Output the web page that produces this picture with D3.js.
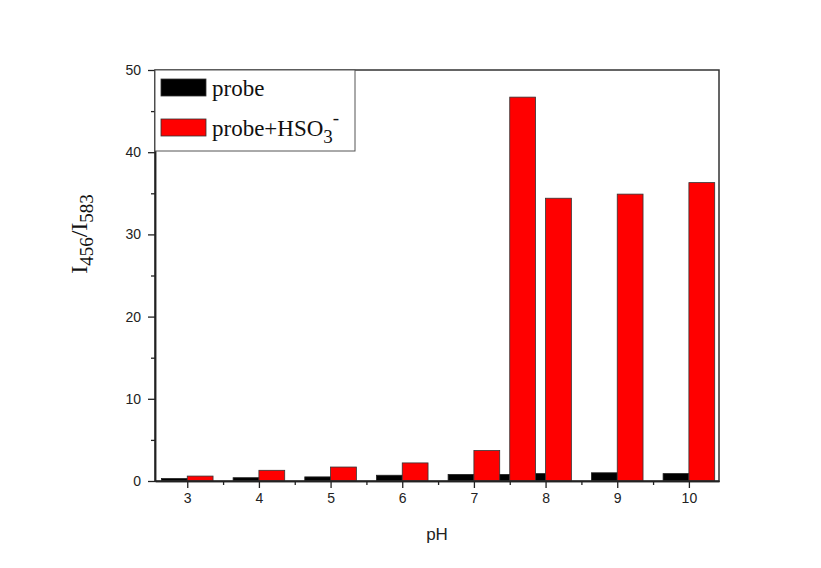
<!DOCTYPE html>
<html>
<head>
<meta charset="utf-8">
<script src="https://cdn.jsdelivr.net/npm/d3@7"></script>
<style>
  html, body { margin: 0; padding: 0; background: #fff; }
  svg { display: block; }
</style>
</head>
<body>
<svg id="chart" width="821" height="568"></svg>
<script>
// ---- data ----
const phValues = [3, 4, 5, 6, 7, 7.5, 8, 9, 10];
const probe = [0.3, 0.4, 0.5, 0.7, 0.8, 0.8, 0.9, 1.0, 0.9];
const probeHSO3 = [0.6, 1.3, 1.7, 2.2, 3.7, 46.7, 34.4, 34.9, 36.3];
const xTicks = [3, 4, 5, 6, 7, 8, 9, 10];
const xMinorTicks = [3.5, 4.5, 5.5, 6.5, 7.5, 8.5, 9.5];
const yTicks = [0, 10, 20, 30, 40, 50];
const yMinorTicks = [5, 15, 25, 35, 45];

const svg = d3.select("#chart");
const L = 155, R = 719, T = 70, B = 481;
const x = d3.scaleLinear().domain([2.55, 10.42]).range([L, R]);
const y = d3.scaleLinear().domain([0, 50]).range([B, T]);
const bw = 0.36;

svg.append("rect").attr("width", 821).attr("height", 568).attr("fill", "#fff");

// bars: all black first, then red
const gBars = svg.append("g");
gBars.selectAll("rect.probe").data(phValues).enter().append("rect")
  .attr("class", "probe")
  .attr("x", (d) => x(d - bw))
  .attr("width", (d) => x(d) - x(d - bw))
  .attr("y", (d, i) => y(probe[i]))
  .attr("height", (d, i) => y(0) - y(probe[i]))
  .attr("fill", "#000").attr("stroke", "#222").attr("stroke-width", 0.8);
gBars.selectAll("rect.hso3").data(phValues).enter().append("rect")
  .attr("class", "hso3")
  .attr("x", (d) => x(d))
  .attr("width", (d) => x(d + bw) - x(d))
  .attr("y", (d, i) => y(probeHSO3[i]))
  .attr("height", (d, i) => y(0) - y(probeHSO3[i]))
  .attr("fill", "#ff0000").attr("stroke", "#333").attr("stroke-width", 0.8);

// frame (top & right)
svg.append("rect").attr("x", L).attr("y", T).attr("width", R - L).attr("height", B - T)
  .attr("fill", "none").attr("stroke", "#333").attr("stroke-width", 1.5);

// axes
const xAxis = svg.append("g").attr("transform", `translate(0,${B})`)
  .call(d3.axisBottom(x).tickValues(xTicks).tickSize(7).tickSizeOuter(0).tickPadding(5).tickFormat(d3.format("d")));
const xMinor = svg.append("g").attr("transform", `translate(0,${B})`)
  .call(d3.axisBottom(x).tickValues(xMinorTicks).tickSize(4).tickSizeOuter(0).tickFormat(""));
const yAxis = svg.append("g").attr("transform", `translate(${L},0)`)
  .call(d3.axisLeft(y).tickValues(yTicks).tickSize(7).tickSizeOuter(0).tickPadding(7).tickFormat(d3.format("d")));
const yMinor = svg.append("g").attr("transform", `translate(${L},0)`)
  .call(d3.axisLeft(y).tickValues(yMinorTicks).tickSize(4).tickSizeOuter(0).tickFormat(""));

[xAxis, xMinor, yAxis, yMinor].forEach(g => {
  g.select(".domain").attr("stroke", "#222").attr("stroke-width", 1.5);
  g.selectAll(".tick line").attr("stroke", "#222").attr("stroke-width", 1.3);
  g.selectAll("text").attr("font-family", "Arial, 'Liberation Sans', sans-serif")
    .attr("font-size", 14).attr("fill", "#222");
});

// axis titles
svg.append("text").attr("x", (L + R) / 2).attr("y", 540)
  .attr("text-anchor", "middle")
  .attr("font-family", "Arial, 'Liberation Sans', sans-serif")
  .attr("font-size", 17).attr("fill", "#222").text("pH");

const yl = svg.append("text")
  .attr("transform", "translate(87,234) rotate(-90)")
  .attr("text-anchor", "middle")
  .attr("font-family", "'Times New Roman', 'Liberation Serif', serif")
  .attr("font-size", 24).attr("fill", "#111");
yl.append("tspan").text("I");
yl.append("tspan").attr("dy", 6).attr("font-size", 19).text("456");
yl.append("tspan").attr("dy", -6).text("/I");
yl.append("tspan").attr("dy", 6).attr("font-size", 19).text("583");

// legend
const lg = svg.append("g");
lg.append("rect").attr("x", L).attr("y", T).attr("width", 200).attr("height", 81)
  .attr("fill", "#fff").attr("stroke", "#555").attr("stroke-width", 1);
const legendItems = [
  { color: "#000", y: 79 },
  { color: "#ff0000", y: 119 }
];
lg.selectAll("rect.sw").data(legendItems).enter().append("rect")
  .attr("class", "sw")
  .attr("x", 161).attr("y", d => d.y).attr("width", 45).attr("height", 17)
  .attr("fill", d => d.color).attr("stroke", "#333").attr("stroke-width", 0.8);
const tfont = "'Times New Roman', 'Liberation Serif', serif";
lg.append("text").attr("x", 212).attr("y", 96).attr("font-family", tfont)
  .attr("font-size", 23).attr("fill", "#111").text("probe");
const t2 = lg.append("text").attr("x", 212).attr("y", 136).attr("font-family", tfont)
  .attr("font-size", 23).attr("fill", "#111");
t2.append("tspan").text("probe+HSO");
t2.append("tspan").attr("dy", 7).attr("font-size", 19).text("3");
t2.append("tspan").attr("dy", -19).attr("font-size", 19).text("-");
</script>
</body>
</html>
